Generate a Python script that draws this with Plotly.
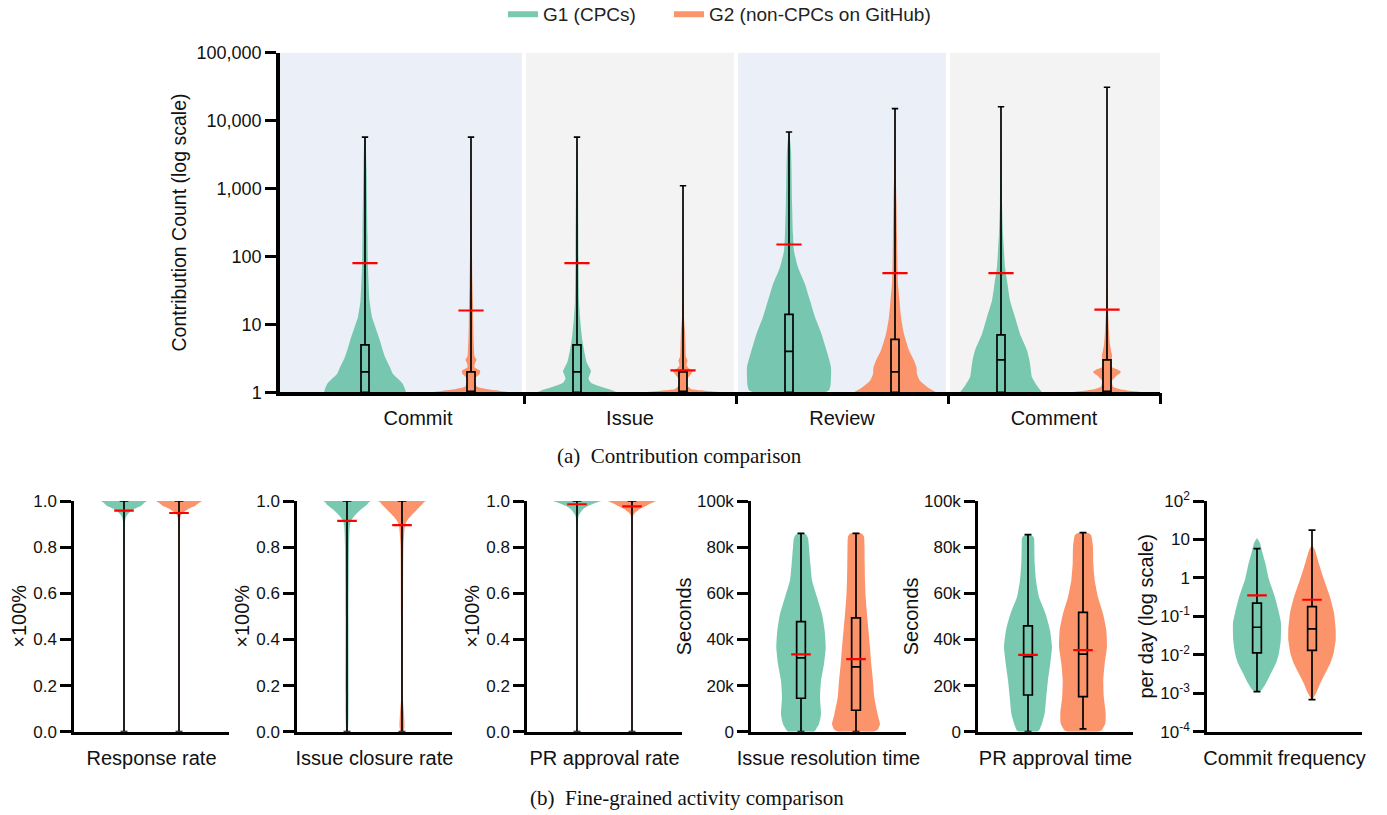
import numpy as np
import plotly.graph_objects as go

W, H = 1387, 815

# ======================= DATA =======================
# ---- (a) Contribution comparison (counts, log scale)
categories = ["Commit", "Issue", "Review", "Comment"]
group_names = ["G1 (CPCs)", "G2 (non-CPCs on GitHub)"]
ytick_vals_a = [1, 10, 100, 1000, 10000, 100000]
ytick_text_a = ["1", "10", "100", "1,000", "10,000", "100,000"]

g1_min = [1, 1, 1, 1]
g1_q1 = [1, 1, 1, 1]
g1_median = [2, 2, 4, 3]
g1_q3 = [5, 5, 14, 7]
g1_max = [5700, 5700, 6800, 16000]
g1_mean = [80, 80, 150, 57]

g2_min = [1, 1, 1, 1]
g2_q1 = [1, 1, 1, 1]
g2_median = [1, 1, 2, 1]
g2_q3 = [2, 2, 6, 3]
g2_max = [5700, 1100, 15000, 31000]
g2_mean = [16, 2.1, 57, 16.5]

# violin density profiles: log10(count) levels and kernel density (relative width)
g1_levels = [
    [0, 0.05, 0.13, 0.2, 0.27, 0.37, 0.52, 0.67, 0.76, 0.87, 1.0, 1.11, 1.35, 1.84, 2.33, 3.3, 3.75],
    [0, 0.03, 0.08, 0.14, 0.2, 0.27, 0.31, 0.36, 0.45, 0.55, 0.62, 0.75, 0.87, 1.1, 1.35, 2.0, 3.0, 3.75],
    [0, 0.03, 0.1, 0.37, 0.62, 0.86, 1.11, 1.35, 1.59, 1.84, 2.08, 2.33, 2.82, 3.3, 3.56, 3.8, 3.84],
    [0, 0.12, 0.22, 0.37, 0.47, 0.62, 0.86, 1.11, 1.35, 1.6, 1.84, 2.08, 2.33, 2.8, 3.3, 4.2],
]
g1_density = [
    [41, 40, 37.5, 33, 28, 25, 20, 16.7, 15, 12.5, 9.5, 7, 4.5, 3, 2.5, 1.5, 0.3],
    [40, 35, 24, 14, 11.5, 13, 14, 12.5, 9.5, 8, 7, 5.5, 4.5, 3, 2, 1.5, 1, 0],
    [36, 40, 41.5, 42, 37.5, 32.5, 26, 21, 16, 9, 5, 4, 3, 2.5, 2, 0.5, 0],
    [41, 35, 31, 29.5, 28.5, 26, 19, 14, 9, 6.5, 4, 3, 2, 1, 0.5, 0],
]
g2_levels = [
    [0, 0.01, 0.03, 0.05, 0.08, 0.15, 0.22, 0.28, 0.32, 0.37, 0.43, 0.48, 0.53, 0.65, 0.8, 1.0, 1.3, 1.6, 2.0, 2.5, 3.75],
    [0, 0.01, 0.03, 0.05, 0.1, 0.2, 0.27, 0.31, 0.35, 0.4, 0.47, 0.52, 0.7, 0.9, 1.1, 1.5, 3.04],
    [0, 0.07, 0.17, 0.27, 0.37, 0.47, 0.62, 0.86, 1.11, 1.35, 1.6, 1.84, 2.33, 2.8, 3.3, 3.8, 4.15],
    [0, 0.02, 0.05, 0.08, 0.17, 0.25, 0.3, 0.34, 0.37, 0.47, 0.55, 0.62, 0.7, 0.9, 1.2, 1.5, 2.0],
]
g2_density = [
    [41, 33, 25, 15, 6, 4, 5, 9, 9, 3.5, 4, 5.5, 3.5, 3, 2.5, 2.2, 2, 1.5, 1, 0.5, 0],
    [41, 30, 18, 8, 4, 4.5, 8, 10, 6, 3.5, 4.5, 3, 2.5, 2, 1, 0.5, 0],
    [41, 33, 25, 22, 21.5, 19, 14, 9, 6, 4.5, 3, 2.5, 2, 1.5, 0.7, 0.3, 0],
    [40, 25, 12, 6, 5, 10, 14, 10, 5, 4.7, 5, 4, 3, 2, 1, 0.5, 0],
]

# ---- (b) Fine-grained activity comparison
metrics_b = ["Response rate", "Issue closure rate", "PR approval rate",
             "Issue resolution time", "PR approval time", "Commit frequency"]
ytitles_b = ["×100%", "×100%", "×100%", "Seconds", "Seconds", "per day (log scale)"]
rate_tick_vals = [0, 0.2, 0.4, 0.6, 0.8, 1.0]
rate_tick_text = ["0.0", "0.2", "0.4", "0.6", "0.8", "1.0"]
time_tick_vals = [0, 20000, 40000, 60000, 80000, 100000]
time_tick_text = ["0", "20k", "40k", "60k", "80k", "100k"]
freq_tick_vals = [1e-4, 1e-3, 1e-2, 1e-1, 1, 10, 100]
freq_tick_text = ["10<sup>-4</sup>", "10<sup>-3</sup>", "10<sup>-2</sup>", "10<sup>-1</sup>",
                  "1", "10", "10<sup>2</sup>"]

b_g1_min = [0, 0, 0, 0, 0, 0.0011]
b_g1_q1 = [1.0, 1.0, 1.0, 14500, 15900, 0.0112]
b_g1_median = [1.0, 1.0, 1.0, 32000, 32500, 0.052]
b_g1_q3 = [1.0, 1.0, 1.0, 47700, 45900, 0.22]
b_g1_max = [1.0, 1.0, 1.0, 86000, 85400, 5.8]
b_g1_mean = [0.958, 0.914, 0.986, 33500, 33300, 0.35]

b_g2_min = [0, 0, 0, 0, 1200, 0.00068]
b_g2_q1 = [1.0, 1.0, 1.0, 9300, 15200, 0.013]
b_g2_median = [1.0, 1.0, 1.0, 28100, 33600, 0.047]
b_g2_q3 = [1.0, 1.0, 1.0, 49300, 51700, 0.18]
b_g2_max = [1.0, 1.0, 1.0, 86000, 86300, 17.5]
b_g2_mean = [0.948, 0.895, 0.977, 31500, 35400, 0.27]

# violin profiles for panel (b); commit frequency levels are log10(per day)
b_g1_levels = [
    [0.0, 0.5, 0.9, 0.924, 0.938, 0.952, 0.967, 0.981, 0.995, 1.0],
    [0.0, 0.08, 0.5, 0.806, 0.893, 0.914, 0.936, 0.958, 0.98, 0.995, 1.0],
    [0.0, 0.9, 0.935, 0.949, 0.964, 0.978, 0.99, 0.996, 1.0],
    [0, 1000, 3300, 7500, 14800, 22000, 29300, 36500, 43800, 51000, 58300, 65600, 72000, 80000, 84000, 85500, 86200],
    [0, 500, 3600, 8000, 15200, 22400, 29600, 36800, 44000, 51200, 58400, 65700, 72900, 80000, 84000, 85000, 85600],
    [-2.97, -2.9, -2.74, -2.48, -2.22, -1.95, -1.61, -1.17, -0.91, -0.48, -0.04, 0.39, 0.65, 0.92, 1.04],
]
b_g1_density = [
    [0.5, 0.5, 0.8, 1.5, 3, 6, 11, 17.5, 21, 23],
    [1, 1.5, 1.5, 2, 2.8, 4, 7.5, 12.5, 19, 22, 24],
    [0.5, 0.7, 1.5, 3.3, 6, 11, 17.5, 21, 24],
    [13, 15, 18, 20, 19, 20, 23, 24.7, 23.7, 21, 16, 11, 9.5, 8, 7, 5, 0],
    [9, 11, 14, 16.7, 18.3, 20, 22.3, 24, 22, 17.5, 11, 8, 6.7, 6.3, 6, 4, 0],
    [1.5, 5, 9, 14, 19, 22, 23.8, 24, 22, 17.7, 12, 8.3, 5.5, 2.8, 0],
]
b_g2_levels = [
    [0.0, 0.5, 0.92, 0.938, 0.952, 0.967, 0.981, 0.995, 1.0],
    [0.0, 0.02, 0.08, 0.15, 0.5, 0.806, 0.893, 0.914, 0.936, 0.958, 0.98, 0.995, 1.0],
    [0.0, 0.9, 0.935, 0.949, 0.964, 0.978, 0.99, 0.996, 1.0],
    [0, 1000, 3300, 7500, 14800, 22000, 29300, 36500, 43800, 51000, 58300, 65600, 72800, 80000, 84500, 85800, 86300],
    [0, 500, 3600, 8000, 15200, 22400, 29600, 36800, 44000, 51200, 58400, 65700, 72900, 80000, 85000, 86000, 86500],
    [-3.17, -3.0, -2.74, -2.48, -2.22, -1.95, -1.61, -1.35, -0.91, -0.48, -0.04, 0.39, 0.74, 0.84],
]
b_g2_density = [
    [0.5, 0.5, 1, 2, 5, 10, 16.7, 21, 23],
    [1.5, 2.5, 2, 0.8, 1, 1.5, 3, 5, 9, 14, 19, 22, 24],
    [0.5, 0.6, 1, 3, 7.5, 14, 19, 22, 24],
    [18, 22, 24, 21.7, 18.3, 17, 15.3, 14, 12.5, 11, 9.7, 9, 8.7, 8.5, 8, 6, 0],
    [15, 18.3, 22.3, 22.7, 20.8, 20.3, 21.7, 24, 23.3, 20, 15, 11.7, 10.3, 10, 8.3, 6, 0],
    [0, 4, 8.3, 13.3, 18.3, 21.7, 23.7, 23.7, 22, 17.8, 12, 6.7, 2.7, 0],
]

# ======================= STYLE =======================
FONT = "Liberation Sans"
SERIF = "Liberation Serif"
FILLS = ["rgba(102,194,165,0.88)", "rgba(252,141,98,0.94)"]
BG = ["#ebeff8", "#f3f3f3"]
A_UNIT_PX = 212.0   # pixels per category in panel (a)
B_UNIT_PX = 55.0    # pixels between the two violins in panel (b)
A_OFFSET = 0.25
A_LEFT_PX, A_RIGHT_PX, A_TOP_PX, A_BOT_PX = 280, 1160, 52.7, 392.3
B_X0_PX = [74, 297, 527, 751, 978, 1207]
B_WIDTH_PX, B_TOP_PX, B_BOT_PX = 155, 501, 731.7
B_G1_PX = 50
B_YTITLE_STANDOFF = [2, 2, 2, 0, 0, 2]
LEGEND_X_PX = [503, 669]
NB = len(metrics_b)

fig = go.Figure()


def add_violin(pos, levels, dens, px_unit, color, xa, ya, log, legend_name=None, legend_id="legend"):
    lv = np.asarray(levels, dtype=float)
    d = np.asarray(dens, dtype=float) / px_unit
    order = np.argsort(lv)
    lv, d = lv[order], d[order]
    yv = 10 ** lv if log else lv
    xs = np.concatenate([pos + d, (pos - d)[::-1]])
    ys = np.concatenate([yv, yv[::-1]])
    fig.add_trace(go.Scatter(
        x=xs, y=ys, xaxis=xa, yaxis=ya, mode="lines", fill="toself",
        fillcolor=color, line=dict(width=0, color=color, shape="spline", smoothing=0.5),
        name=legend_name or "", showlegend=legend_name is not None, legend=legend_id,
        legendgroup=legend_name or "", hoverinfo="skip"))


def add_box(pos, lo, q1, med, q3, hi, mean, width, xa, ya, mean_size):
    fig.add_trace(go.Box(
        x=[pos], lowerfence=[lo], q1=[q1], median=[med], q3=[q3], upperfence=[hi],
        xaxis=xa, yaxis=ya, width=width, whiskerwidth=0.8, boxpoints=False,
        fillcolor="rgba(0,0,0,0)", line=dict(color="black", width=1.7),
        showlegend=False, hoverinfo="skip"))
    fig.add_trace(go.Scatter(
        x=[pos], y=[mean], xaxis=xa, yaxis=ya, mode="markers",
        marker=dict(symbol="line-ew", size=mean_size, line=dict(color="#ff0000", width=2.2)),
        showlegend=False, hoverinfo="skip"))


# ---------------- panel (a) ----------------
n = len(categories)
legend_ids = ["legend", "legend2"]
for i in range(n):
    for g, (lvls, dens) in enumerate([(g1_levels, g1_density), (g2_levels, g2_density)]):
        pos = i + (-A_OFFSET if g == 0 else A_OFFSET)
        add_violin(pos, lvls[i], dens[i], A_UNIT_PX, FILLS[g], "x", "y", True,
                   legend_name=group_names[g] if i == 0 else None, legend_id=legend_ids[g])
# boxes live on an overlaying axis (same scale) so they are drawn above the violins
for i in range(n):
    add_box(i - A_OFFSET, g1_min[i], g1_q1[i], g1_median[i], g1_q3[i], g1_max[i], g1_mean[i],
            8 / A_UNIT_PX, "x8", "y", 18)
    add_box(i + A_OFFSET, g2_min[i], g2_q1[i], g2_median[i], g2_q3[i], g2_max[i], g2_mean[i],
            8 / A_UNIT_PX, "x8", "y", 18)

center0 = 365 + A_OFFSET * A_UNIT_PX
a_range = [(A_LEFT_PX - center0) / A_UNIT_PX, (A_RIGHT_PX - center0) / A_UNIT_PX]

# background bands
for i in range(n):
    x0 = a_range[0] if i == 0 else i - 0.5 + 0.01
    x1 = a_range[1] if i == n - 1 else i + 0.5 - 0.01
    fig.add_shape(type="rect", xref="x", yref="y domain", x0=x0, x1=x1, y0=0, y1=1,
                  fillcolor=BG[i % 2], line=dict(width=0), layer="below")

# ---------------- panel (b) ----------------
b_range = [-B_G1_PX / B_UNIT_PX, (B_WIDTH_PX - B_G1_PX) / B_UNIT_PX]
for k in range(NB):
    xa, ya, xo = f"x{k + 2}", f"y{k + 2}", f"x{k + 9}"
    log = k == 5
    add_violin(0, b_g1_levels[k], b_g1_density[k], B_UNIT_PX, FILLS[0], xa, ya, log)
    add_violin(1, b_g2_levels[k], b_g2_density[k], B_UNIT_PX, FILLS[1], xa, ya, log)
    add_box(0, b_g1_min[k], b_g1_q1[k], b_g1_median[k], b_g1_q3[k], b_g1_max[k], b_g1_mean[k],
            8.7 / B_UNIT_PX, xo, ya, 14)
    add_box(1, b_g2_min[k], b_g2_q1[k], b_g2_median[k], b_g2_q3[k], b_g2_max[k], b_g2_mean[k],
            8.7 / B_UNIT_PX, xo, ya, 14)

# ======================= LAYOUT =======================
legend_style = dict(orientation="h", xanchor="left", y=1.007, yanchor="top",
                    font=dict(size=19, family=FONT, color="#222222"),
                    bgcolor="rgba(0,0,0,0)", borderwidth=0)
layout = dict(
    width=W, height=H, margin=dict(l=0, r=0, t=0, b=0, autoexpand=False),
    paper_bgcolor="white", plot_bgcolor="rgba(0,0,0,0)",
    font=dict(family=FONT, color="#111111"),
    showlegend=True,
    legend=dict(x=LEGEND_X_PX[0] / W, **legend_style),
    legend2=dict(x=LEGEND_X_PX[1] / W, **legend_style),
    xaxis=dict(domain=[A_LEFT_PX / W, A_RIGHT_PX / W], range=a_range, anchor="y",
               tickvals=list(range(n)), ticktext=categories, tickfont=dict(size=20),
               ticks="outside", ticklen=5, tickcolor="rgba(0,0,0,0)",
               showline=True, linewidth=3.5, linecolor="black",
               showgrid=False, zeroline=False, fixedrange=True),
    xaxis8=dict(overlaying="x", anchor="y", range=a_range,
                tickvals=[i + 0.5 for i in range(n)], ticks="outside", ticklen=11,
                tickwidth=3, tickcolor="black", showticklabels=False,
                showline=False, showgrid=False, zeroline=False),
    yaxis=dict(domain=[1 - A_BOT_PX / H, 1 - A_TOP_PX / H], type="log", range=[0, 5],
               anchor="x", tickvals=ytick_vals_a, ticktext=ytick_text_a,
               tickfont=dict(size=18), ticks="outside", ticklen=11, tickwidth=3,
               tickcolor="black", showline=True, linewidth=3.5, linecolor="black",
               title=dict(text="Contribution Count (log scale)", font=dict(size=19.5), standoff=6),
               showgrid=False, zeroline=False),
    annotations=[
        dict(text="(a)\u2002Contribution comparison", xref="paper", yref="paper",
             x=679 / W, y=1 - 456 / H, showarrow=False, xanchor="center", yanchor="middle",
             font=dict(family=SERIF, size=21, color="#111111")),
        dict(text="(b)\u2002Fine-grained activity comparison", xref="paper", yref="paper",
             x=687 / W, y=1 - 798 / H, showarrow=False, xanchor="center", yanchor="middle",
             font=dict(family=SERIF, size=21, color="#111111")),
    ],
)

for k in range(NB):
    x0 = B_X0_PX[k]
    layout[f"xaxis{k + 2}"] = dict(
        domain=[x0 / W, (x0 + B_WIDTH_PX) / W], range=b_range, anchor=f"y{k + 2}",
        showticklabels=False, ticks="", showline=True, linewidth=2.5, linecolor="black",
        showgrid=False, zeroline=False,
        title=dict(text=metrics_b[k], font=dict(size=20), standoff=18))
    layout[f"xaxis{k + 9}"] = dict(overlaying=f"x{k + 2}", anchor=f"y{k + 2}", range=b_range,
                                   visible=False, showgrid=False, zeroline=False)
    yax = dict(domain=[1 - B_BOT_PX / H, 1 - B_TOP_PX / H], anchor=f"x{k + 2}",
               ticks="outside", ticklen=11, tickwidth=2.5, tickcolor="black",
               showline=True, linewidth=2.5, linecolor="black", tickfont=dict(size=17),
               showgrid=False, zeroline=False,
               title=dict(text=ytitles_b[k], font=dict(size=20), standoff=B_YTITLE_STANDOFF[k]))
    if k < 3:
        yax.update(range=[0, 1], tickvals=rate_tick_vals, ticktext=rate_tick_text)
    elif k < 5:
        yax.update(range=[0, 100000], tickvals=time_tick_vals, ticktext=time_tick_text)
    else:
        yax.update(type="log", range=[-4, 2], tickvals=freq_tick_vals, ticktext=freq_tick_text)
    layout[f"yaxis{k + 2}"] = yax

fig.update_layout(**layout)
fig.write_html("out.html", config={"displayModeBar": False},
               post_script="document.body.style.margin='0';")
